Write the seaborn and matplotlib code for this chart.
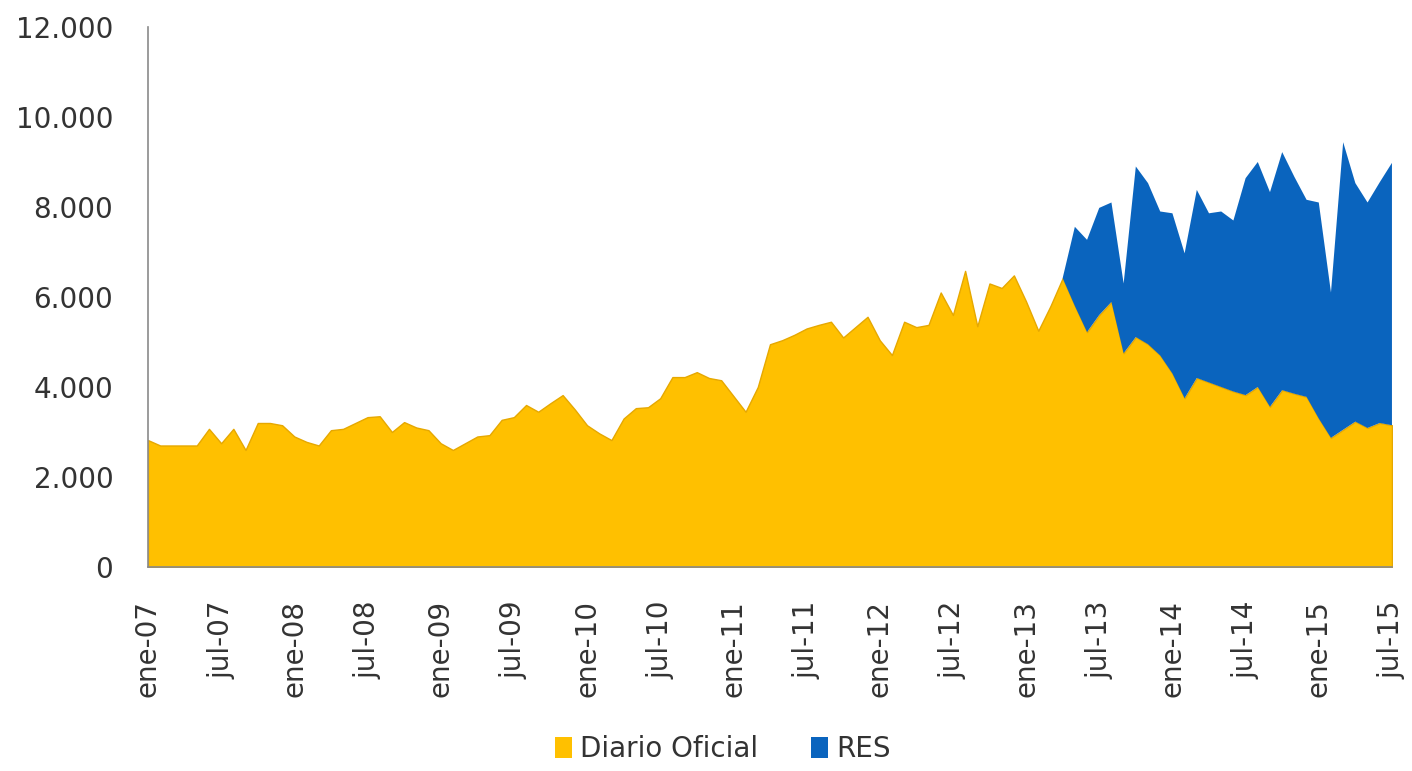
import matplotlib
matplotlib.use("Agg")
import matplotlib.pyplot as plt
import matplotlib.ticker as mticker
from matplotlib.patches import Patch
import seaborn as sns
import numpy as np
import pandas as pd

# Monthly data, ene-07 .. jul-15
diario_oficial = [
    2820, 2700, 2700, 2700, 2700, 3070, 2750, 3070, 2600, 3200, 3200, 3150,   # 2007
    2900, 2780, 2700, 3040, 3070, 3200, 3330, 3350, 3000, 3220, 3100, 3040,   # 2008
    2750, 2600, 2750, 2900, 2930, 3270, 3330, 3600, 3450, 3640, 3820, 3500,   # 2009
    3150, 2970, 2820, 3300, 3530, 3550, 3750, 4220, 4220, 4330, 4200, 4150,   # 2010
    3800, 3450, 4000, 4950, 5040, 5160, 5300, 5380, 5450, 5100, 5330, 5560,   # 2011
    5040, 4710, 5450, 5330, 5380, 6100, 5600, 6580, 5350, 6300, 6200, 6480,   # 2012
    5900, 5250, 5800, 6420, 5800, 5220, 5600, 5890, 4750, 5110, 4950, 4700,   # 2013
    4300, 3750, 4200, 4100, 4000, 3900, 3820, 4000, 3560, 3930, 3850, 3780,   # 2014
    3300, 2870, 3050, 3230, 3090, 3200, 3150,                                 # 2015
]
# RES starts in abr-13 (index 75)
res_start = 75
res_values = [
    0, 1760, 2050, 2380, 2210, 1550, 3790, 3580, 3200,
    3560, 3220, 4180, 3760, 3900, 3800, 4820, 5000, 4770, 5290, 4820, 4380,
    4800, 3230, 6390, 5300, 5010, 5350, 5830,
]
tick_labels = ["ene-07", "jul-07", "ene-08", "jul-08", "ene-09", "jul-09",
               "ene-10", "jul-10", "ene-11", "jul-11", "ene-12", "jul-12",
               "ene-13", "jul-13", "ene-14", "jul-14", "ene-15", "jul-15"]
series_names = ["Diario Oficial", "RES"]
colors = ["#FFC000", "#0A64BE"]

n = len(diario_oficial)
months = np.arange(n)
res_full = np.zeros(n)
res_full[res_start:res_start + len(res_values)] = res_values
df = pd.DataFrame({"month": months, series_names[0]: diario_oficial, series_names[1]: res_full})

sns.set_style("white")
plt.rcParams["font.family"] = ["DejaVu Sans"]

fig = plt.figure(figsize=(14.12, 7.71), dpi=100)
ax = fig.add_axes([0.1048, 0.2646, 0.881, 0.7004])

polys = ax.stackplot(df["month"], df[series_names[0]], df[series_names[1]],
                     colors=colors, linewidth=1.0)
polys[0].set_edgecolor("#E6A800")
polys[1].set_edgecolor("none")
polys[1].set_linewidth(0)

ax.set_xlim(0, n - 1)
ax.set_ylim(0, 12000)
ax.set_yticks(np.arange(0, 12001, 2000))
ax.yaxis.set_major_formatter(mticker.FuncFormatter(lambda v, p: f"{int(v):,}".replace(",", ".")))
ax.set_xticks(np.arange(0, n, 6))
ax.set_xticklabels(tick_labels, rotation=90)

for s in ["top", "right"]:
    ax.spines[s].set_visible(False)
for s in ["left", "bottom"]:
    ax.spines[s].set_color("#8A8A8A")
    ax.spines[s].set_linewidth(1.2)
ax.tick_params(axis="both", which="major", direction="out", length=7, width=1.2,
               color="#8A8A8A", labelsize=20, labelcolor="#333333")
ax.tick_params(axis="y", pad=18)
ax.tick_params(axis="x", pad=17)
ax.grid(False)

handles = [Patch(facecolor=c, edgecolor="none") for c in colors]
fig.legend(handles, series_names, loc="lower center", bbox_to_anchor=(0.512, -0.022),
           ncol=2, frameon=False, fontsize=20, handlelength=0.6, handleheight=0.8,
           handletextpad=0.3, columnspacing=1.9, labelcolor="#333333")

fig.savefig("out.png", dpi=100, facecolor="white")
